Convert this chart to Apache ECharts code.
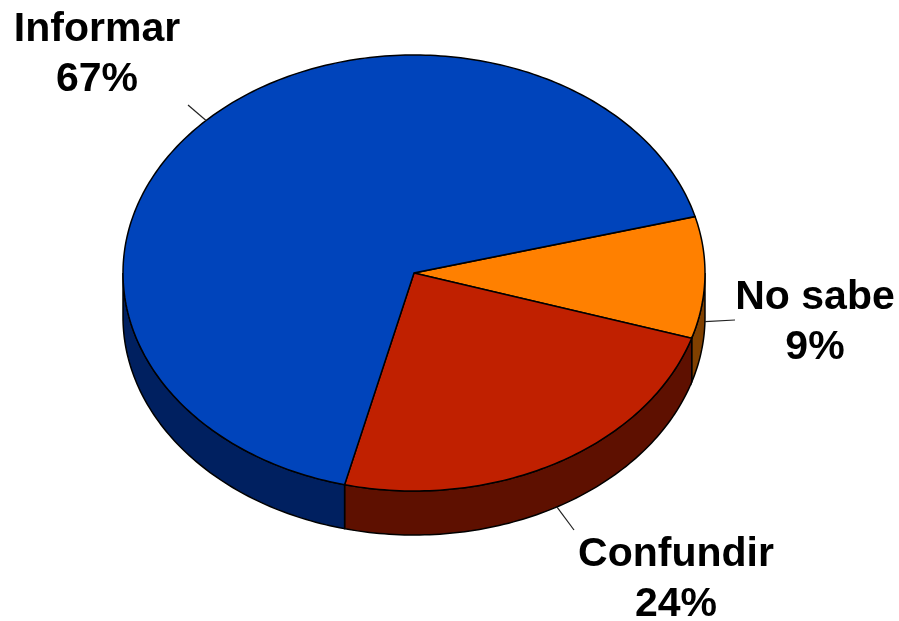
<!DOCTYPE html>
<html>
<head>
<meta charset="utf-8">
<title>Informar / Confundir / No sabe</title>
<script src="https://cdn.jsdelivr.net/npm/echarts@6/dist/echarts.min.js"></script>
<style>
  html, body { margin: 0; padding: 0; background: #fff; }
  #chart { width: 899px; height: 621px; }
</style>
</head>
<body>
<div id="chart"></div>
<script>
// slices in drawing order, clockwise from the upper edge of the orange one
const categories = ['No sabe', 'Confundir', 'Informar']
const values = [9, 24, 67]
const topColors = ['#ff8000', '#c02000', '#0044bb']
const wallColors = ['#804000', '#5e1000', '#002060']
// label centres, one per slice
const labelX = [815, 676, 97]
const labelY = [273, 530, 5]
const lineEnds = [[735, 320], [574, 530], [188, 105]]

const cx = 414
const cy = 273
const rx = 291
const ry = 218
const depth = 44
const startDeg = -15
const font = 'bold 41px "Liberation Sans", Arial, sans-serif'

const total = values.reduce((a, b) => a + b, 0)
const rad = d => d * Math.PI / 180

function point (deg, dy) {
  return [cx + rx * Math.cos(rad(deg)), cy + (dy || 0) + ry * Math.sin(rad(deg))]
}

// points along the rim between two angles
function arc (from, to, dy) {
  const pts = []
  const steps = Math.max(2, Math.ceil(Math.abs(to - from)))
  for (let i = 0; i <= steps; i++) {
    pts.push(point(from + (to - from) * i / steps, dy))
  }
  return pts
}

function sliceAngles (index) {
  let from = startDeg
  for (let i = 0; i < index; i++) from += values[i] / total * 360
  return [from, from + values[index] / total * 360]
}

function renderSlice (params, api) {
  const i = params.dataIndex
  const share = api.value(0) / total * 360
  const from = sliceAngles(i)[0]
  const to = from + share
  const mid = (from + to) / 2
  const children = []

  // side wall, only the part facing the viewer
  const wallFrom = Math.max(from, 0)
  const wallTo = Math.min(to, 180)
  if (wallTo > wallFrom) {
    children.push({
      type: 'polygon',
      shape: { points: arc(wallFrom, wallTo, 0).concat(arc(wallTo, wallFrom, depth)) },
      style: { fill: wallColors[i], stroke: '#000', lineWidth: 1.5 }
    })
  }

  // top face
  children.push({
    type: 'polygon',
    shape: { points: [[cx, cy]].concat(arc(from, to, 0)) },
    style: { fill: topColors[i], stroke: '#000', lineWidth: 1.5 }
  })

  // leader line starts on the outer rim, under the wall on the lower half
  const lower = Math.sin(rad(mid)) > 0
  const p = point(mid, lower ? depth : 0)
  children.push({
    type: 'line',
    shape: { x1: p[0], y1: p[1], x2: lineEnds[i][0], y2: lineEnds[i][1] },
    style: { stroke: '#222', lineWidth: 1.2 }
  })

  children.push({
    type: 'text',
    style: {
      text: categories[i] + '\n' + api.value(0) + '%',
      x: labelX[i],
      y: labelY[i],
      align: 'center',
      verticalAlign: 'top',
      font,
      lineHeight: 50,
      fill: '#000'
    },
    z2: 10
  })

  return { type: 'group', children }
}

const chart = echarts.init(document.getElementById('chart'), null, { renderer: 'canvas' })
chart.setOption({
  animation: false,
  backgroundColor: '#fff',
  series: [{
    type: 'custom',
    coordinateSystem: 'none',
    clip: false,
    renderItem: renderSlice,
    data: values.map((v, i) => ({ name: categories[i], value: [v] }))
  }]
})
</script>
</body>
</html>
